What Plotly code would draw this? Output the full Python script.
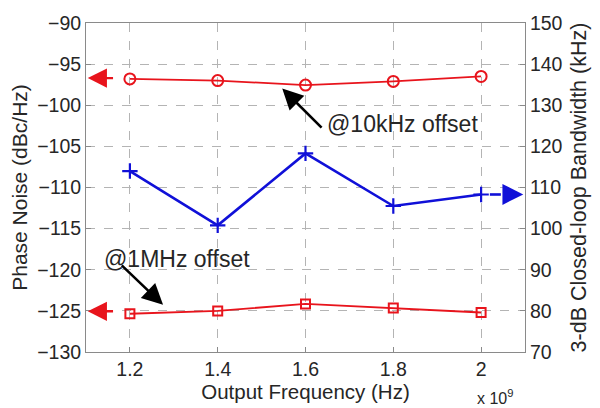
import plotly.graph_objects as go

freq = [1.2e9, 1.4e9, 1.6e9, 1.8e9, 2.0e9]
pn_10k = [-96.8, -97.0, -97.55, -97.1, -96.5]
pn_1m = [-125.35, -125.0, -124.15, -124.65, -125.2]
bw_khz = [114.0, 100.8, 118.3, 105.5, 108.3]

x_tickvals = [1.2e9, 1.4e9, 1.6e9, 1.8e9, 2.0e9]
x_ticktext = ["1.2", "1.4", "1.6", "1.8", "2"]
y_left_ticks = [-130, -125, -120, -115, -110, -105, -100, -95, -90]
y_right_ticks = [70, 80, 90, 100, 110, 120, 130, 140, 150]

FONT = "Arial, Liberation Sans, sans-serif"
RED = "#e8141c"
BLUE = "#1010d8"
AX = "#8a8a8a"
TXT = "#262626"

fig = go.Figure()
fig.add_trace(go.Scatter(x=freq, y=pn_10k, mode="lines+markers",
                         line=dict(color=RED, width=1.8),
                         marker=dict(symbol="circle-open", size=11, color=RED, line=dict(width=2)),
                         showlegend=False))
fig.add_trace(go.Scatter(x=freq, y=pn_1m, mode="lines+markers",
                         line=dict(color=RED, width=1.8),
                         marker=dict(symbol="square-open", size=9, color=RED, line=dict(width=2)),
                         showlegend=False))
fig.add_trace(go.Scatter(x=freq, y=bw_khz, mode="lines+markers", yaxis="y2",
                         line=dict(color=BLUE, width=2.6),
                         marker=dict(symbol="cross-thin-open", size=11, color=BLUE, line=dict(width=2.2, color=BLUE)),
                         showlegend=False))

# dashed lead-in for the blue arrow
fig.add_shape(type="line", xref="x", yref="y2", x0=2.02e9, x1=2.045e9,
              y0=bw_khz[-1], y1=bw_khz[-1], line=dict(color=BLUE, width=2.6))

ann = []
# red arrows pointing to left axis
for yv in [pn_10k[0] + 0.1, pn_1m[0] + 0.3]:
    ann.append(dict(x=1.104e9, y=yv, xref="x", yref="y", ax=1.165e9, ay=yv,
                    axref="x", ayref="y", text="", showarrow=True,
                    arrowhead=2, arrowsize=1.6, arrowwidth=2.4, arrowcolor=RED))
# blue arrow pointing to right axis
ann.append(dict(x=2.096e9, y=bw_khz[-1], xref="x", yref="y2", ax=2.055e9, ay=bw_khz[-1],
                axref="x", ayref="y2", text="", showarrow=True,
                arrowhead=2, arrowsize=1.6, arrowwidth=2.6, arrowcolor=BLUE))
# black annotation arrows
ann.append(dict(x=1.547e9, y=-97.95, xref="x", yref="y", ax=1.64e9, ay=-102.9,
                axref="x", ayref="y", text="", showarrow=True,
                arrowhead=2, arrowsize=1.6, arrowwidth=2.6, arrowcolor="black"))
ann.append(dict(x=1.2755e9, y=-124.27, xref="x", yref="y", ax=1.178e9, ay=-119.3,
                axref="x", ayref="y", text="", showarrow=True,
                arrowhead=2, arrowsize=1.6, arrowwidth=2.6, arrowcolor="black"))
# texts
ann.append(dict(x=1.645e9, y=-102.3, xref="x", yref="y", text="@10kHz offset",
                showarrow=False, xanchor="left", font=dict(size=23, color=TXT, family=FONT)))
ann.append(dict(x=1.1365e9, y=-118.65, xref="x", yref="y", text="@1MHz offset",
                showarrow=False, xanchor="left", font=dict(size=23, color=TXT, family=FONT)))
ann.append(dict(x=0.977, y=-0.1, xref="paper", yref="paper", text="x 10<sup>9</sup>",
                showarrow=False, xanchor="right", yanchor="top", font=dict(size=16, color=TXT, family=FONT)))

fig.update_layout(
    width=600, height=408,
    margin=dict(l=86, r=75, t=17, b=49),
    paper_bgcolor="white", plot_bgcolor="white",
    font=dict(family=FONT, size=19.5, color=TXT),
    annotations=ann,
    xaxis=dict(range=[1.1e9, 2.1e9], tickvals=x_tickvals, ticktext=x_ticktext,
               showgrid=True, gridcolor="#b4b4b4", griddash="dash", gridwidth=1,
               showline=True, linecolor=AX, linewidth=1, mirror=True,
               ticks="inside", ticklen=5, tickcolor=AX, zeroline=False,
               title=dict(text="Output Frequency (Hz)", standoff=1, font=dict(size=20.5))),
    yaxis=dict(range=[-130, -90], tickvals=y_left_ticks,
               showgrid=True, gridcolor="#b4b4b4", griddash="dash", gridwidth=1,
               showline=True, linecolor=AX, linewidth=1, mirror=True,
               ticks="inside", ticklen=5, tickcolor=AX, zeroline=False,
               title=dict(text="Phase Noise (dBc/Hz)", standoff=3, font=dict(size=21))),
    yaxis2=dict(range=[70, 150], tickvals=y_right_ticks, overlaying="y", side="right",
                showgrid=False, showline=True, linecolor=AX, linewidth=1,
                ticks="inside", ticklen=5, tickcolor=AX, zeroline=False,
                title=dict(text="3-dB Closed-loop Bandwidth (kHz)", standoff=9, font=dict(size=21.5))),
)

fig.write_html("out.html")
